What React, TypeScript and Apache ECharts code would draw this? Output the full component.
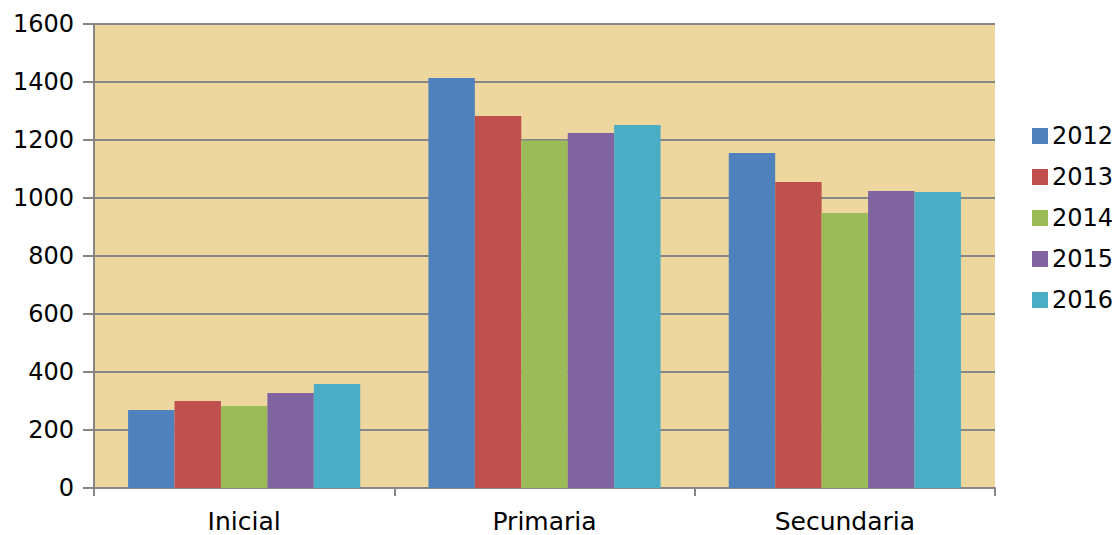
import React, { useEffect, useRef } from "react";
import * as echarts from "echarts";

const categories = ["Inicial", "Primaria", "Secundaria"];
const years = ["2012", "2013", "2014", "2015", "2016"];
const v2012 = [269, 1414, 1155];
const v2013 = [300, 1283, 1055];
const v2014 = [283, 1198, 948];
const v2015 = [328, 1224, 1024];
const v2016 = [359, 1252, 1021];
const colors = ["#4F81BD", "#C0504D", "#9BBB59", "#8064A2", "#4BACC6"];
const yTicks = [0, 200, 400, 600, 800, 1000, 1200, 1400, 1600];

export default function App() {
  const ref = useRef<HTMLDivElement>(null);
  useEffect(() => {
    document.body.style.margin = "0";
    if (!ref.current) return;
    const chart = echarts.init(ref.current, null, { renderer: "svg" });
    const seriesData = [v2012, v2013, v2014, v2015, v2016];
    const font = "DejaVu Sans";
    chart.setOption({
      animation: false,
      textStyle: { fontFamily: font },
      grid: {
        left: 94,
        right: 124,
        top: 24,
        bottom: 47,
        outerBoundsMode: "none",
        containLabel: false,
        show: true,
        backgroundColor: "#EED69F",
        borderWidth: 0,
      },
      legend: {
        orient: "vertical",
        left: 1027,
        top: 119,
        itemWidth: 16,
        itemHeight: 16,
        itemGap: 17,
        icon: "rect",
        data: years,
        textStyle: { fontSize: 24, color: "#000", fontFamily: font, padding: [0, 0, 0, -1] },
      },
      xAxis: {
        type: "category",
        data: categories,
        axisLine: { show: true, lineStyle: { color: "#868686", width: 2 } },
        axisTick: { show: true, length: 8, lineStyle: { color: "#868686", width: 2 } },
        axisLabel: { color: "#000", fontSize: 25, lineHeight: 24, margin: 21, fontFamily: font },
      },
      yAxis: {
        type: "value",
        min: 0,
        max: 1600,
        interval: 200,
        axisLine: { show: true, lineStyle: { color: "#868686", width: 2 } },
        axisTick: { show: true, length: 11, lineStyle: { color: "#868686", width: 2 } },
        axisLabel: {
          color: "#000",
          fontSize: 24,
          margin: 20,
          fontFamily: font,
          formatter: (v: number) => (yTicks.includes(v) ? String(v) : ""),
        },
        splitLine: { show: true, lineStyle: { color: "#868686", width: 2 } },
      },
      series: years.map((y, i) => ({
        name: y,
        type: "bar",
        data: seriesData[i],
        barGap: "0%",
        barCategoryGap: "22.7%",
        itemStyle: { color: colors[i] },
      })),
    });
    return () => chart.dispose();
  }, []);
  return <div ref={ref} style={{ width: 1119, height: 535 }} />;
}
